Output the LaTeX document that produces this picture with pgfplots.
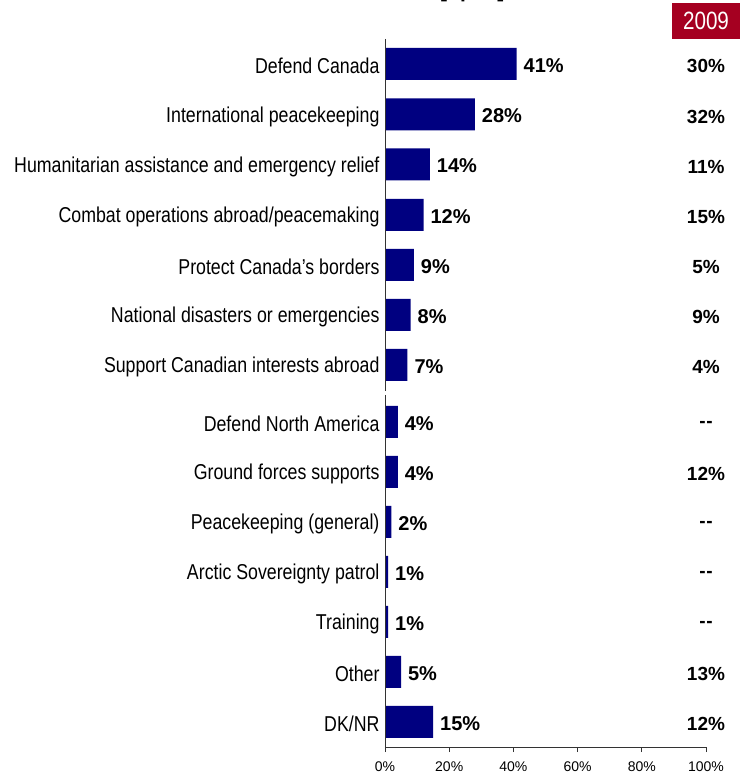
\documentclass[border=0pt]{standalone}
\usepackage{pgfplots}
\pgfplotsset{compat=1.18}
\usepackage{pgfplotstable}
\usepackage{fontspec}
\setmainfont{Liberation Sans}
\newfontfamily\narrowfont[FakeStretch=0.826]{Liberation Sans}
\definecolor{barnavy}{RGB}{0,0,128}
\definecolor{boxred}{RGB}{165,0,33}
\newcommand{\nd}{-\kern0.5pt-}

% y = vertical centre position of each bar
\pgfplotstableread{
y val
714 41
663.5 28
613.5 14
563 12
513 9
463 8
413 7
356 4
306 4
256 2
206 1
156 1
106 5
56 15
}\mainT

\pgfplotstableread{
x y lab
100 714 30\%
100 663.5 32\%
100 613.5 11\%
100 563 15\%
100 513 5\%
100 463 9\%
100 413 4\%
100 356 \nd
100 306 12\%
100 256 \nd
100 206 \nd
100 156 \nd
100 106 13\%
100 56 12\%
}\prevT

\begin{document}
\begin{tikzpicture}[x=1pt,y=1pt]
\begin{axis}[
  at={(385pt,31pt)}, anchor=south west,
  scale only axis, width=321pt, height=708pt,
  xmin=0, xmax=100, ymin=31, ymax=739,
  clip=false,
  axis x line*=bottom, axis y line*=left,
  y axis line style={draw=none},
  x axis line style={line width=1pt, black!80},
  xtick={0,20,40,60,80,100},
  xticklabel={\pgfmathprintnumber{\tick}\%},
  /pgf/number format/assume math mode=true,
  xticklabel style={font=\fontsize{14}{16}\selectfont, yshift=-6pt},
  x tick style={line width=1pt, black!80},
  tick align=outside,
  major tick length=5pt,
  ytick={714,663.5,613.5,563,513,463,413,356,306,256,206,156,106,56},
  yticklabels={Defend Canada, International peacekeeping, Humanitarian assistance and emergency relief, Combat operations abroad/peacemaking, Protect Canada’s borders, National disasters or emergencies, Support Canadian interests abroad, Defend North America, Ground forces supports, Peacekeeping (general), Arctic Sovereignty patrol, Training, Other, DK/NR},
  y tick style={draw=none},
  yticklabel style={font=\narrowfont\fontsize{21.5}{24}\selectfont, xshift=3pt, yshift=-2pt},
]
\addplot[xbar, bar width=32, fill=barnavy, draw=none,
  nodes near coords={\pgfmathprintnumber{\pgfplotspointmeta}\%},
  every node near coord/.append style={font=\bfseries\fontsize{20}{22}\selectfont, text=black, xshift=3.5pt, yshift=-1.5pt}]
  table[x=val, y=y, meta=val]{\mainT};
\addplot[draw=none, mark=none,
  nodes near coords, point meta=explicit symbolic,
  every node near coord/.append style={anchor=center, font=\bfseries\fontsize{19}{21}\selectfont, text=black, yshift=-2pt}]
  table[x=x, y=y, meta=lab]{\prevT};
\draw[line width=1pt, black!80] (axis cs:0,739) -- (axis cs:0,387);
\draw[line width=1pt, black!80] (axis cs:0,383) -- (axis cs:0,31);
\end{axis}
\node[fill=boxred, minimum width=68pt, minimum height=36pt, inner sep=0pt, text=white,
  font=\narrowfont\fontsize{25}{28}\selectfont] at (706,757) {2009};
\node[anchor=base west, inner sep=0pt, font=\bfseries\fontsize{21}{24}\selectfont] at (440,780.5) {[open]};
\pgfresetboundingbox
\useasboundingbox (0,0) rectangle (740,778);
\end{tikzpicture}
\end{document}
